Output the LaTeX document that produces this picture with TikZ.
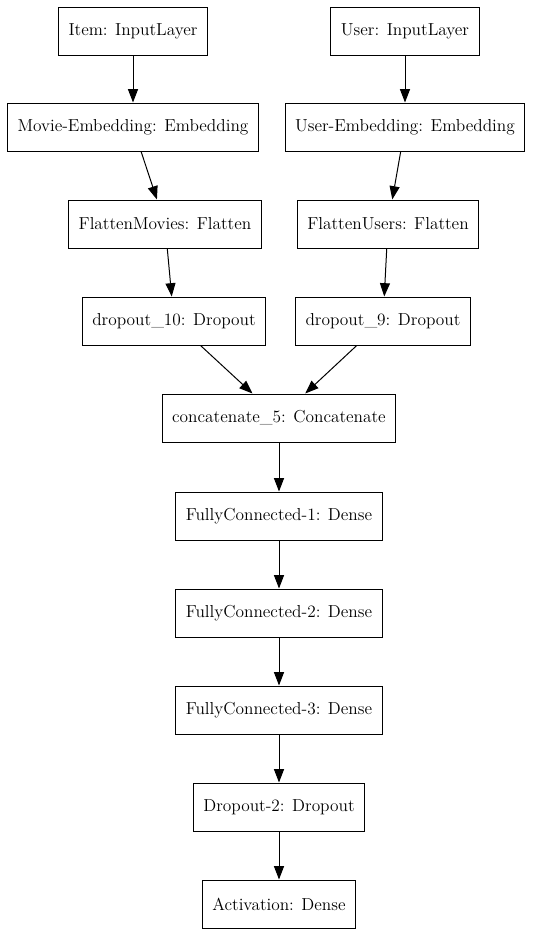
\documentclass[tikz,border=0pt]{standalone}
\usetikzlibrary{arrows.meta}

\begin{document}
\begin{tikzpicture}[x=0.75pt, y=-0.75pt,
    layer/.style={draw, line width=0.75pt, inner xsep=7.5pt, minimum height=36pt,
        font=\rmfamily\fontsize{13}{15}\selectfont},
    flow/.style={line width=0.75pt, -{Triangle[length=10pt, width=7.5pt]}}]

        \useasboundingbox (0,0) rectangle (533,936);

        % inputs and embeddings
        \node[layer] (item_in) at (133, 31) {Item: InputLayer};
        \node[layer] (user_in) at (405, 31) {User: InputLayer};
        \node[layer] (movie_emb) at (133, 127) {Movie-Embedding: Embedding};
        \node[layer] (user_emb) at (405, 127) {User-Embedding: Embedding};

        \node[layer] (flat_movies) at (165, 224) {FlattenMovies: Flatten};
        \node[layer] (flat_users) at (388, 224) {FlattenUsers: Flatten};
        \node[layer] (drop_ten) at (174, 321) {dropout\_10: Dropout};
        \node[layer] (drop_nine) at (383, 321) {dropout\_9: Dropout};

        % merged part
        \node[layer] (concat) at (279, 418) {concatenate\_5: Concatenate};
        \node[layer] (fc_one) at (279, 516) {FullyConnected-1: Dense};
        \node[layer] (fc_two) at (279, 613) {FullyConnected-2: Dense};
        \node[layer] (fc_three) at (279, 710) {FullyConnected-3: Dense};
        \node[layer] (drop_two) at (279, 807) {Dropout-2: Dropout};
        \node[layer] (act) at (279, 904) {Activation: Dense};

        \draw[flow] (item_in) -- (movie_emb);
        \draw[flow] (user_in) -- (user_emb);
        \draw[flow] (movie_emb) -- (flat_movies);
        \draw[flow] (user_emb) -- (flat_users);
        \draw[flow] (flat_movies) -- (drop_ten);
        \draw[flow] (flat_users) -- (drop_nine);
        \draw[flow] (drop_ten) -- (concat);
        \draw[flow] (drop_nine) -- (concat);
        \draw[flow] (concat) -- (fc_one);
        \draw[flow] (fc_one) -- (fc_two);
        \draw[flow] (fc_two) -- (fc_three);
        \draw[flow] (fc_three) -- (drop_two);
        \draw[flow] (drop_two) -- (act);

    \end{tikzpicture}
\end{document}
